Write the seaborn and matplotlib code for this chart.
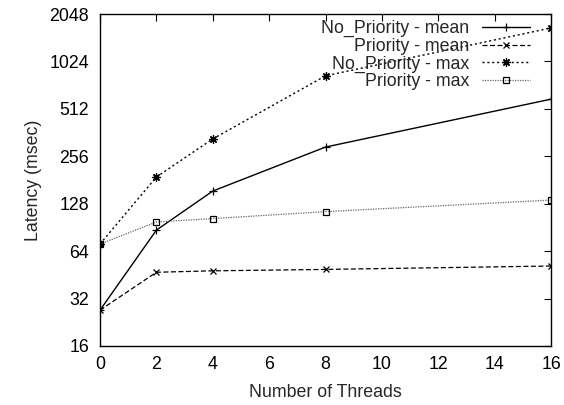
import matplotlib
matplotlib.use("Agg")
import matplotlib.pyplot as plt
import matplotlib.ticker as mticker
import pandas as pd
import seaborn as sns

threads = [0, 2, 4, 8, 16]
no_priority_mean = [27, 87, 154, 293, 590]
priority_mean = [27, 47, 48, 49, 51.5]
no_priority_max = [71, 189, 330, 830, 1670]
priority_max = [71, 98, 103, 114, 135]

series_names = [
    "No_Priority - mean",
    "Priority - mean",
    "No_Priority - max",
    "Priority - max",
]
y_ticks = [16, 32, 64, 128, 256, 512, 1024, 2048]
x_ticks = [0, 2, 4, 6, 8, 10, 12, 14, 16]

df = pd.DataFrame({
    "threads": threads * 4,
    "latency": no_priority_mean + priority_mean + no_priority_max + priority_max,
    "series": [n for n in series_names for _ in threads],
})

sns.set_style("white")
plt.rcParams["font.family"] = ["Liberation Sans", "DejaVu Sans"]
fs = 12.8

styles = {
    "No_Priority - mean": dict(color="black", linestyle="-", marker="+", markersize=6, lw=1.0),
    "Priority - mean": dict(color="black", linestyle=(0, (4, 2)), marker="x", markersize=5, lw=0.9),
    "No_Priority - max": dict(color="black", linestyle=(0, (1.5, 2)), marker=(8, 2, 0), markersize=6, lw=1.0),
    "Priority - max": dict(color="#666666", linestyle=(0, (1, 1)), marker="s", markersize=5,
                           markerfacecolor="none", lw=0.9),
}

fig, ax = plt.subplots(figsize=(5.64, 4.05), dpi=100)
for name in series_names:
    sub = df[df["series"] == name]
    sns.lineplot(data=sub, x="threads", y="latency", ax=ax, label=name,
                 markeredgecolor="black", markeredgewidth=0.9, **styles[name])

ax.set_yscale("log", base=2)
ax.set_ylim(16, 2048)
ax.set_xlim(0, 16)
ax.yaxis.set_major_locator(mticker.FixedLocator(y_ticks))
ax.yaxis.set_major_formatter(mticker.FixedFormatter([str(t) for t in y_ticks]))
ax.yaxis.set_minor_locator(mticker.NullLocator())
ax.set_xticks(x_ticks)
ax.tick_params(direction="in", length=5, width=0.8, top=True, right=True,
               labelsize=fs, colors="black")
ax.tick_params(axis="y", pad=8)
ax.tick_params(axis="x", pad=7)
for sp in ax.spines.values():
    sp.set_color("black")
    sp.set_linewidth(1.0)

ax.set_xlabel("Number of Threads", fontsize=fs, labelpad=8)
ax.set_ylabel("Latency (msec)", fontsize=fs, labelpad=5)

ax.legend(loc="upper right", bbox_to_anchor=(0.9534, 0.982), frameon=False,
          markerfirst=False, fontsize=fs, handlelength=2.7, labelspacing=0.04,
          borderaxespad=0.0, borderpad=0.0, handletextpad=0.7)
leg = ax.get_legend()
leg._legend_box.align = "right"

fig.subplots_adjust(left=0.1773, right=0.977, top=0.9654, bottom=0.1457)
fig.savefig("out.png", dpi=100)
